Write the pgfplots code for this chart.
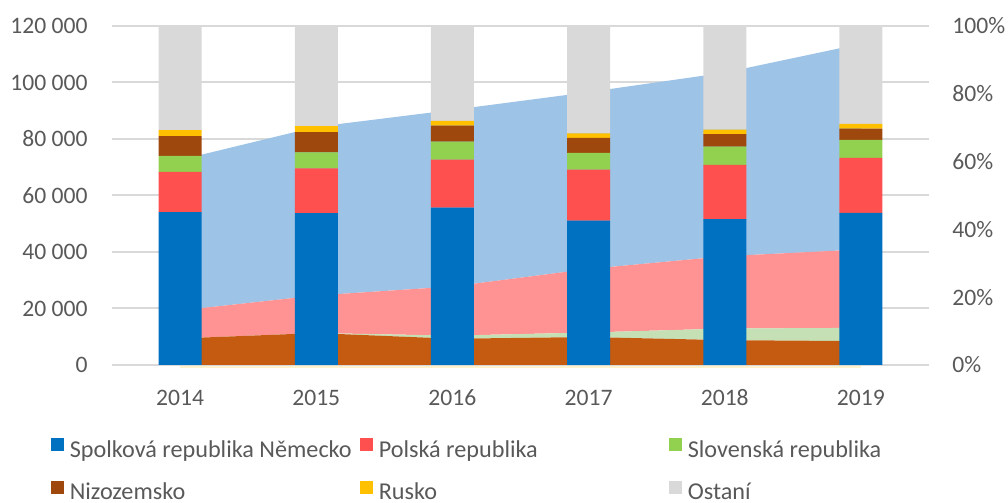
\documentclass[border=0pt]{standalone}
\usepackage{fontspec}
\setmainfont{Carlito}
\usepackage{pgfplots}
\pgfplotsset{compat=1.18}

\definecolor{deblue}{HTML}{0070C0}
\definecolor{plred}{HTML}{FF5050}
\definecolor{skgreen}{HTML}{92D050}
\definecolor{nlbrown}{HTML}{9E480E}
\definecolor{ruyellow}{HTML}{FFC000}
\definecolor{otgrey}{HTML}{D9D9D9}
\definecolor{arblue}{HTML}{9DC3E6}
\definecolor{arpink}{HTML}{FF9393}
\definecolor{argreen}{HTML}{C5E0B4}
\definecolor{arorange}{HTML}{C55A11}
\definecolor{arcream}{HTML}{FFF2CC}
\definecolor{gridgrey}{HTML}{D9D9D9}
\definecolor{labelgrey}{HTML}{595959}

\newcommand{\chartfont}{\fontsize{11.8}{14}\selectfont}
\newcommand{\legfont}{\fontsize{12.1}{14.5}\selectfont}

\begin{document}
\begin{tikzpicture}
\useasboundingbox (-56pt,-69pt) rectangle (448pt,182.5pt);

% stacked areas, left axis
\begin{axis}[
  at={(0pt,0pt)}, anchor=south west,
  scale only axis, width=408.5pt, height=169.5pt,
  xmin=-0.5, xmax=5.5, ymin=0, ymax=120000,
  scaled y ticks=false,
  xtick={0,1,2,3,4,5},
  xticklabels={2014,2015,2016,2017,2018,2019},
  ytick={0,20000,40000,60000,80000,100000,120000},
  yticklabels={0,20 000,40 000,60 000,80 000,100 000,120 000},
  axis line style={draw=none}, major tick length=0pt,
  ymajorgrids, grid style={draw=gridgrey, line width=1pt},
  tick label style={font=\chartfont, text=labelgrey, inner sep=0pt},
  xticklabel style={anchor=base, yshift=-20pt},
  yticklabel style={anchor=east, xshift=-12pt},
  stack plots=y, clip=false,
]
\addplot[draw=arcream, line width=1pt, yshift=-1pt]
  coordinates {(0,0) (1,0) (2,0) (3,0) (4,0) (5,0)};
\addplot[fill=arorange, draw=none]
  coordinates {(0,9400) (1,11300) (2,9300) (3,9900) (4,8800) (5,8450)} \closedcycle;
\addplot[fill=argreen, draw=none]
  coordinates {(0,0) (1,0) (2,1100) (3,1600) (4,4100) (5,4700)} \closedcycle;
\addplot[fill=arpink, draw=none]
  coordinates {(0,9900) (1,13300) (2,17400) (3,22500) (4,25600) (5,27750)} \closedcycle;
\addplot[fill=arblue, draw=none]
  coordinates {(0,53300) (1,59700) (2,62500) (3,62600) (4,65000) (5,72800)} \closedcycle;
\end{axis}

% 100% stacked columns, right axis
\begin{axis}[
  at={(0pt,0pt)}, anchor=south west,
  scale only axis, width=408.5pt, height=169.5pt,
  xmin=-0.5, xmax=5.5, ymin=0, ymax=100,
  ybar stacked, bar width=21.5pt,
  xtick=\empty,
  ytick={0,20,40,60,80,100},
  yticklabels={0\%,20\%,40\%,60\%,80\%,100\%},
  yticklabel pos=right,
  axis line style={draw=none}, major tick length=0pt,
  tick label style={font=\chartfont, text=labelgrey, inner sep=0pt},
  yticklabel style={anchor=west, xshift=11.5pt},
  legend image code/.code={\fill[#1] (0pt,0pt) rectangle (6.5pt,6.5pt);},
  legend columns=3,
  legend style={
    at={(axis description cs:-0.07466,-0.2145)}, anchor=north west,
    draw=none, fill=none, inner sep=0pt, font=\legfont, text=labelgrey,
    nodes={inner sep=0pt, text height=9pt, text depth=3pt},
    row sep=8.8pt,
    /tikz/every odd column/.append style={column sep=2.7pt},
    /tikz/every even column/.append style={column sep=5.3pt},
  },
]
\addplot[fill=deblue, draw=none]
  coordinates {(0,45.1) (1,44.8) (2,46.4) (3,42.6) (4,43.0) (5,44.9)};
\addlegendentry{\makebox[140pt][l]{Spolková republika Německo}}
\addplot[fill=plred, draw=none]
  coordinates {(0,11.9) (1,13.2) (2,14.2) (3,15.0) (4,16.0) (5,16.2)};
\addlegendentry{\makebox[140pt][l]{Polská republika}}
\addplot[fill=skgreen, draw=none]
  coordinates {(0,4.7) (1,4.7) (2,5.3) (3,5.0) (4,5.4) (5,5.3)};
\addlegendentry{\makebox[140pt][l]{Slovenská republika}}
\addplot[fill=nlbrown, draw=none]
  coordinates {(0,5.8) (1,6.0) (2,4.7) (3,4.4) (4,3.7) (5,3.3)};
\addlegendentry{\makebox[140pt][l]{Nizozemsko}}
\addplot[fill=ruyellow, draw=none]
  coordinates {(0,1.8) (1,1.8) (2,1.4) (3,1.3) (4,1.3) (5,1.4)};
\addlegendentry{\makebox[140pt][l]{Rusko}}
\addplot[fill=otgrey, draw=none]
  coordinates {(0,30.7) (1,29.5) (2,28.0) (3,31.7) (4,30.6) (5,28.9)};
\addlegendentry{\makebox[140pt][l]{Ostaní}}
\end{axis}
\end{tikzpicture}
\end{document}
